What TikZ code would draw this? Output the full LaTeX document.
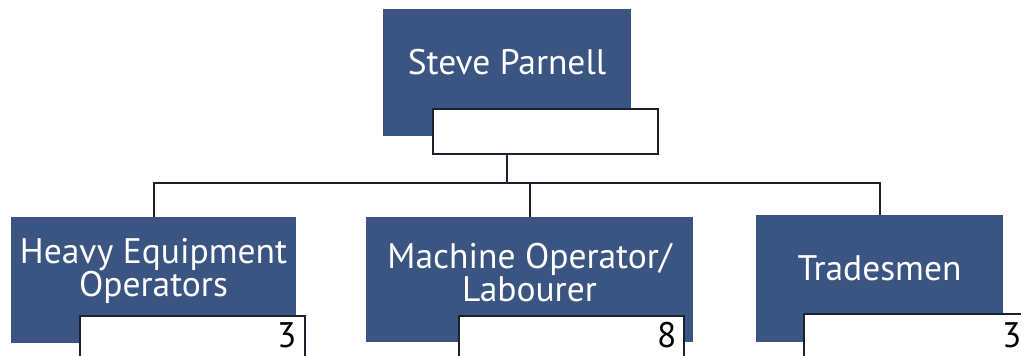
\documentclass[tikz,border=0pt]{standalone}
\usepackage{fontspec}
\setmainfont{PT Sans}
\definecolor{boxblue}{RGB}{58,85,130}
\definecolor{linedark}{RGB}{28,32,48}
\begin{document}
\begin{tikzpicture}[x=1pt,y=-1pt,
  bluebox/.style={fill=boxblue, draw=none, inner sep=0pt, anchor=north west},
  countbox/.style={fill=white, draw=linedark, line width=1.6pt, inner sep=0pt,
    anchor=north west, minimum width=225, minimum height=45},
  countnum/.style={inner sep=0pt, anchor=base east, text=black,
    font=\fontsize{35.5}{35.5}\selectfont},
  title/.style={text=white, inner sep=0pt, align=center, font=\fontsize{35.5}{31}\selectfont},
  conn/.style={draw=linedark, line width=1.8pt}]
  \clip (0,0) rectangle (1021,356);
  \fill[white] (0,0) rectangle (1021,356);

  % manager
  \node[bluebox, minimum width=248, minimum height=127] (top) at (383,9) {};
  \node[countbox] (topw) at (432,108) {};
  \node[title, anchor=base] (topt) at (507,74) {Steve Parnell};

  % teams
  \node[bluebox, minimum width=285, minimum height=126] (hq) at (11,217) {};
  \node[countbox] (hqw) at (79,315) {};
  \node[countnum] (hqn) at ([shift={(-9,32)}]hqw.north east) {3};
  \node[title] (hqt) at (153.5,271) {Heavy Equipment\\Operators};

  \node[bluebox, minimum width=327, minimum height=125] (mo) at (366,217) {};
  \node[countbox] (mow) at (458,315) {};
  \node[countnum] (mon) at ([shift={(-8,32)}]mow.north east) {8};
  \node[title] (mot) at (529.5,273) {Machine Operator/\\Labourer};

  \node[bluebox, minimum width=247, minimum height=127] (tr) at (756,215) {};
  \node[countbox] (trw) at (803,313) {};
  \node[countnum] (trn) at ([shift={(-8,34)}]trw.north east) {3};
  \node[title, anchor=base] (trt) at (879.5,280) {Tradesmen};

  % reporting lines
  \coordinate (bus) at (0,183);
  \draw[conn] (top.south |- topw.south) -- (top.south |- bus);
  \draw[conn] (hq.north) -- (hq.north |- bus) -- (tr.north |- bus) -- (tr.north);
  \draw[conn] (mo.north) -- (mo.north |- bus);
\end{tikzpicture}
\end{document}
